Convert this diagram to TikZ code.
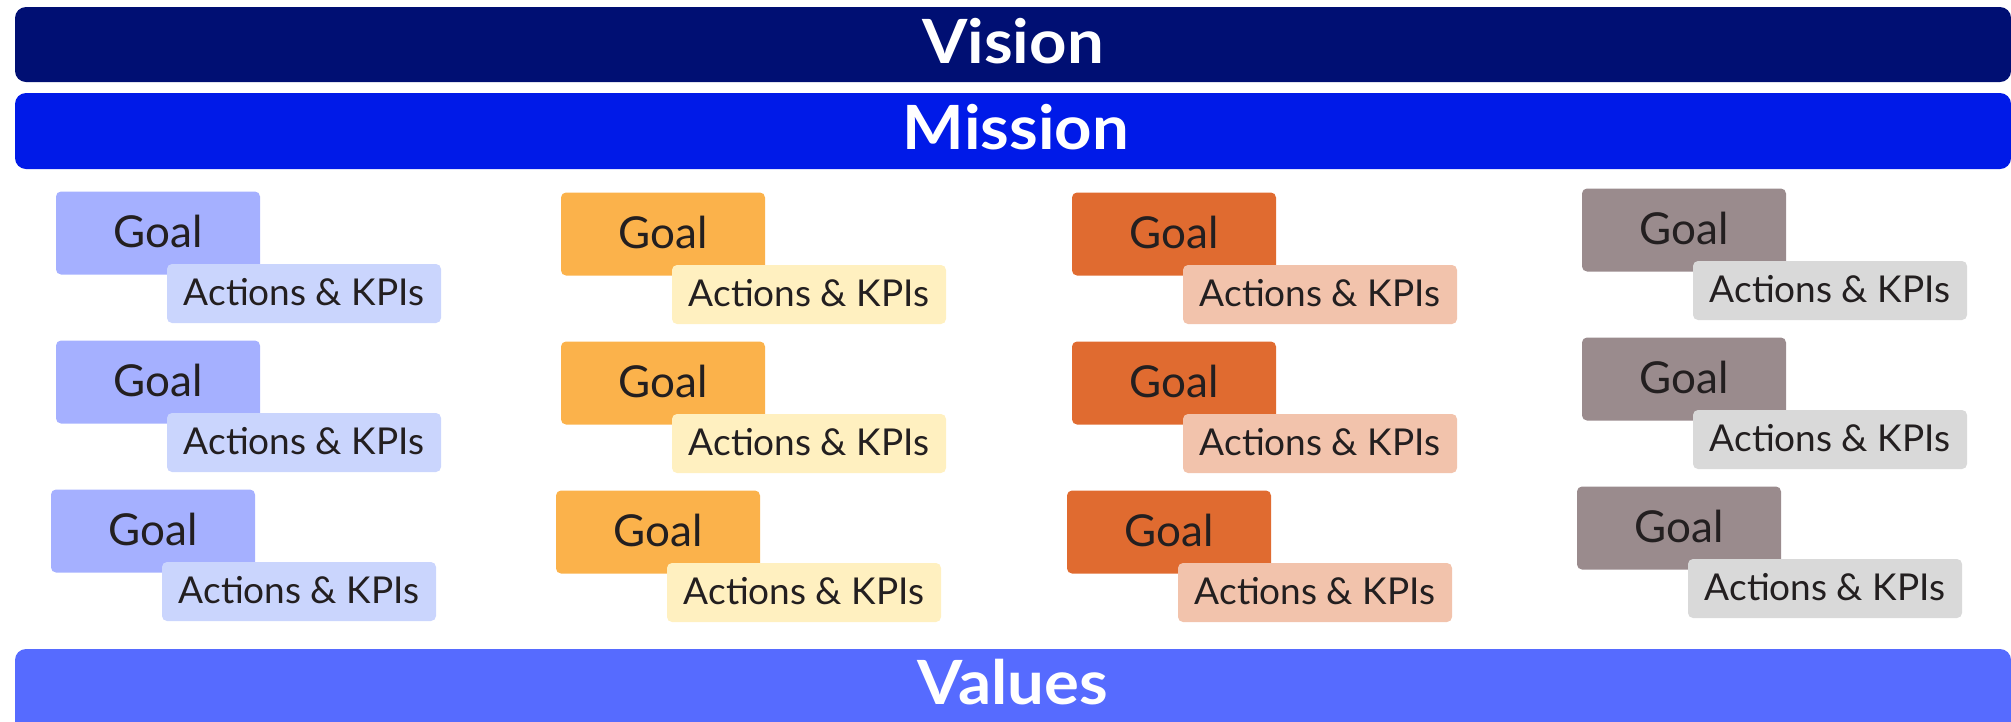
\documentclass[tikz,border=0pt]{standalone}
\usepackage{fontspec}
\setmainfont{Lato}
\newfontfamily\titlefont[FakeStretch=1.07]{Lato Bold}
\begin{document}
\begin{tikzpicture}[x=1pt,y=-1pt]
\definecolor{visionc}{HTML}{000F73}
\definecolor{missionc}{HTML}{001AE8}
\definecolor{valuesc}{HTML}{566BFF}
\definecolor{inkc}{HTML}{231F20}
\definecolor{goalA}{HTML}{A5B0FF}\definecolor{actA}{HTML}{CAD5FD}
\definecolor{goalB}{HTML}{FBB24B}\definecolor{actB}{HTML}{FFF0C0}
\definecolor{goalC}{HTML}{E06B30}\definecolor{actC}{HTML}{F2C3AC}
\definecolor{goalD}{HTML}{9A8B8D}\definecolor{actD}{HTML}{D9D9D9}
\tikzset{
  bar/.style={rounded corners=11pt, inner sep=0pt},
  bartext/.style={text=white, font=\titlefont\fontsize{61}{61}\selectfont,
    text height=43pt, text depth=0pt, inner sep=0pt},
  goalbox/.style={rounded corners=5pt, minimum width=204pt, minimum height=83pt,
    inner sep=0pt, text=inkc, text height=32pt, text depth=3pt,
    font=\fontsize{44}{50}\selectfont},
  actbox/.style={rounded corners=5pt, minimum width=274pt, minimum height=59pt,
    inner sep=0pt, text=inkc, text height=27pt, text depth=4pt,
    font=\fontsize{37}{40}\selectfont},
}
\useasboundingbox (0,0) rectangle (2011,721);
\begin{scope}
\clip (0,0) rectangle (2011,721);
% the three horizontal bands
\fill[visionc, bar] (15,7) rectangle (2011,82);
\fill[missionc, bar] (15,93) rectangle (2011,169);
\fill[valuesc, bar] (15,649) rectangle (2011,740);
\end{scope}
\node[bartext] (vision) at (1013,41.5) {Vision};
\node[bartext] (mission) at (1016,127.5) {Mission};
\node[bartext] (values) at (1013,682.5) {Values};
% goal / action pairs: column x, row y, colour pair
\foreach \col/\cx/\dy/\gc/\ac in {1/0/0/goalA/actA, 2/505/1/goalB/actB, 3/1016/1/goalC/actC, 4/1526/-3/goalD/actD}{
  \foreach \row/\rx/\ry in {1/0/0, 2/0/149, 3/-5/298}{
    \node[goalbox, fill=\gc] (g\col\row) at (158+\cx+\rx, 233+\dy+\ry) {Goal};
    \node[actbox, fill=\ac] (a\col\row) at (304+\cx+\rx, 293.5+\dy+\ry) {Actions \& KPIs};
  }
}
\end{tikzpicture}
\end{document}
